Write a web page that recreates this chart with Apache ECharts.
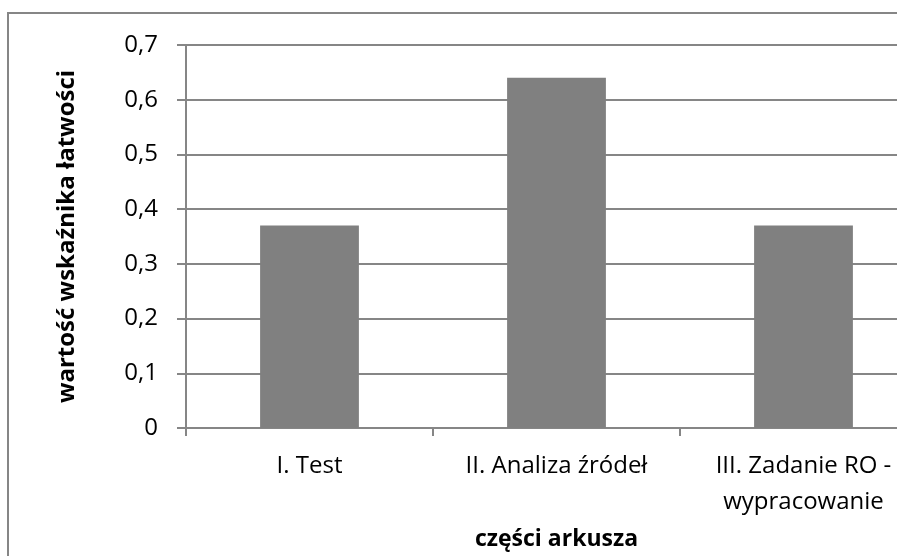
<!DOCTYPE html>
<html>
<head>
<meta charset="utf-8">
<script src="https://cdn.jsdelivr.net/npm/echarts@6/dist/echarts.min.js"></script>
<style>
html,body{margin:0;padding:0;background:#fff;}
#chart{width:897px;height:556px;}
</style>
</head>
<body>
<div id="chart"></div>
<script>
const categories = ['I. Test', 'II. Analiza źródeł', 'III. Zadanie RO -\nwypracowanie'];
const values = [0.37, 0.64, 0.37];
const yTicks = {min: 0, max: 0.7, interval: 0.1};
const yTitle = 'wartość wskaźnika łatwości';
const xTitle = 'części arkusza';

const FONT = '"Open Sans", sans-serif';
const chart = echarts.init(document.getElementById('chart'), null, {renderer: 'canvas'});
chart.setOption({
  animation: false,
  backgroundColor: '#ffffff',
  graphic: [{
    type: 'rect',
    shape: {x: 8, y: 13, width: 1000, height: 1000},
    style: {fill: 'none', stroke: '#868686', lineWidth: 2},
    silent: true
  }],
  grid: {left: 186, top: 45, width: 741, bottom: 128, containLabel: false, outerBoundsMode: 'none'},
  xAxis: {
    type: 'category',
    data: categories,
    boundaryGap: true,
    axisLine: {lineStyle: {color: '#868686', width: 2}},
    axisTick: {show: true, length: 8, lineStyle: {color: '#868686', width: 2}},
    axisLabel: {color: '#000', fontFamily: FONT, fontSize: 24, lineHeight: 36, margin: 20, interval: 0},
    name: xTitle,
    nameLocation: 'middle',
    nameGap: 100,
    nameTextStyle: {color: '#000', fontFamily: FONT, fontSize: 23, fontWeight: 'bold'}
  },
  yAxis: {
    type: 'value',
    min: yTicks.min, max: yTicks.max, interval: yTicks.interval,
    axisLine: {show: true, lineStyle: {color: '#868686', width: 2}},
    axisTick: {show: true, length: 9, lineStyle: {color: '#868686', width: 2}},
    splitLine: {show: true, lineStyle: {color: '#868686', width: 2}},
    axisLabel: {
      color: '#000', fontFamily: FONT, fontSize: 24, margin: 28,
      formatter: v => (Math.round(v * 10) / 10).toString().replace('.', ',')
    },
    name: yTitle,
    nameLocation: 'middle',
    nameRotate: 90,
    nameGap: 107,
    nameTextStyle: {color: '#000', fontFamily: FONT, fontSize: 24, fontWeight: 'bold'}
  },
  series: [{
    type: 'bar',
    data: values,
    barWidth: '40%',
    itemStyle: {color: '#808080'}
  }]
});
</script>
</body>
</html>
